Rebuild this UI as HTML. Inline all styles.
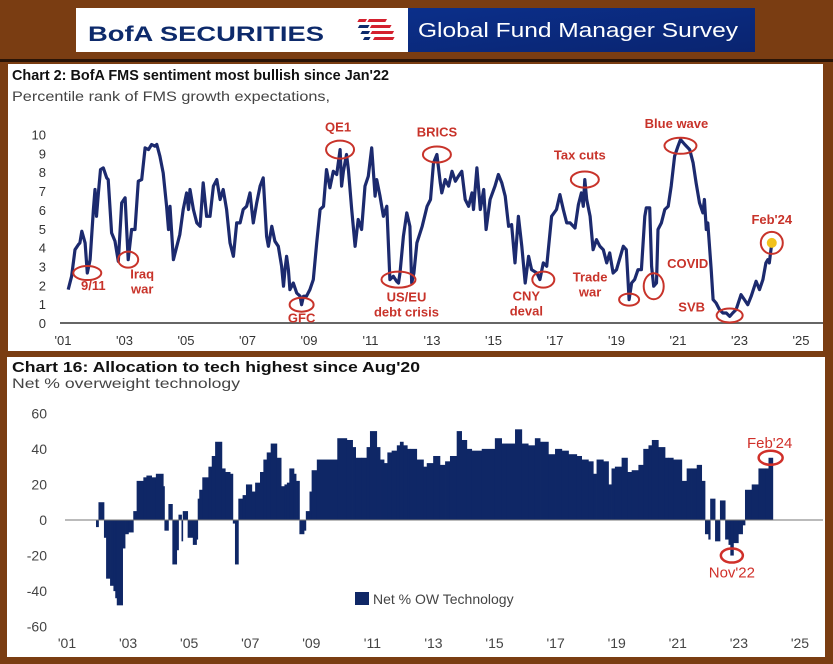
<!DOCTYPE html>
<html><head><meta charset="utf-8"><style>
html,body{margin:0;padding:0;background:#7a3d12;}
svg{display:block;font-family:"Liberation Sans",sans-serif;}
</style></head><body>
<svg id="root" width="833" height="664" viewBox="0 0 833 664">
  <rect x="0" y="0" width="833" height="664" fill="#7a3d12"/>
  <rect x="0" y="59" width="833" height="3" fill="#2a1406"/>
  <g>
    <rect x="76" y="8" width="332" height="44" fill="#ffffff"/>
    <text x="88" y="41" font-size="21" font-weight="bold" fill="#0d2a6b" textLength="236" lengthAdjust="spacingAndGlyphs">BofA SECURITIES</text>
    <g transform="skewX(-30)">
      <rect x="370" y="19" width="8" height="3" fill="#d4202e"/><rect x="380" y="19" width="18" height="3" fill="#d4202e"/>
      <rect x="374" y="25" width="10" height="3" fill="#0d2a6b"/><rect x="386" y="25" width="20" height="3" fill="#d4202e"/>
      <rect x="380" y="31" width="8" height="3" fill="#0d2a6b"/><rect x="390" y="31" width="22" height="3" fill="#d4202e"/>
      <rect x="386" y="37" width="6" height="3" fill="#0d2a6b"/><rect x="396" y="37" width="20" height="3" fill="#d4202e"/>
    </g>
    <defs><linearGradient id="bg" x1="0" y1="0" x2="1" y2="1"><stop offset="0" stop-color="#0b2f8a"/><stop offset="1" stop-color="#0a2470"/></linearGradient></defs>
    <rect x="408" y="8" width="347" height="44" fill="url(#bg)"/>
    <text x="418" y="37" font-size="20" fill="#ffffff" textLength="320" lengthAdjust="spacingAndGlyphs">Global Fund Manager Survey</text>
  </g>

  <rect x="8" y="64" width="815" height="287" fill="#ffffff"/>
  <text x="12" y="80" font-size="15" font-weight="bold" fill="#111" textLength="377" lengthAdjust="spacingAndGlyphs">Chart 2: BofA FMS sentiment most bullish since Jan'22</text>
  <text x="12" y="101" font-size="14" fill="#444" textLength="318" lengthAdjust="spacingAndGlyphs">Percentile rank of FMS growth expectations,</text>
  <g id="c1"></g>

  <rect x="7" y="357" width="818" height="300" fill="#ffffff"/>
  <text x="12" y="372" font-size="15" font-weight="bold" fill="#111" textLength="408" lengthAdjust="spacingAndGlyphs">Chart 16: Allocation to tech highest since Aug'20</text>
  <text x="12" y="388" font-size="14" fill="#444" textLength="228" lengthAdjust="spacingAndGlyphs">Net % overweight technology</text>
  <g id="c2"></g>
</svg>
<script>
// ---------- Chart 2 data ----------
const sentYears = [2001.17,2001.28,2001.39,2001.5,2001.55,2001.61,2001.72,2001.79,2001.88,2001.99,2002.04,2002.09,2002.15,2002.22,2002.31,2002.42,2002.47,2002.58,2002.69,2002.8,2002.91,2003.02,2003.12,2003.23,2003.34,2003.45,2003.56,2003.67,2003.78,2003.88,2003.99,2004.05,2004.15,2004.26,2004.37,2004.43,2004.48,2004.59,2004.7,2004.8,2004.91,2005.02,2005.08,2005.13,2005.24,2005.35,2005.46,2005.56,2005.67,2005.78,2005.89,2006.0,2006.11,2006.21,2006.32,2006.43,2006.54,2006.65,2006.76,2006.86,2006.97,2007.08,2007.14,2007.19,2007.3,2007.41,2007.51,2007.62,2007.68,2007.79,2007.89,2008.0,2008.11,2008.17,2008.22,2008.27,2008.33,2008.38,2008.49,2008.6,2008.71,2008.76,2008.82,2008.92,2009.03,2009.14,2009.25,2009.36,2009.47,2009.57,2009.68,2009.79,2009.9,2010.01,2010.06,2010.12,2010.22,2010.28,2010.39,2010.5,2010.6,2010.71,2010.82,2010.93,2011.04,2011.15,2011.2,2011.31,2011.42,2011.53,2011.63,2011.74,2011.85,2011.91,2011.96,2012.07,2012.18,2012.28,2012.34,2012.41,2012.51,2012.68,2012.84,2012.95,2013.05,2013.16,2013.27,2013.32,2013.43,2013.54,2013.65,2013.76,2013.86,2013.97,2014.08,2014.19,2014.3,2014.35,2014.46,2014.57,2014.68,2014.76,2014.89,2015.05,2015.16,2015.27,2015.38,2015.49,2015.59,2015.7,2015.81,2015.92,2016.03,2016.14,2016.24,2016.41,2016.51,2016.62,2016.73,2016.89,2017.05,2017.16,2017.27,2017.38,2017.49,2017.65,2017.76,2017.86,2017.92,2017.97,2018.03,2018.14,2018.24,2018.35,2018.46,2018.57,2018.68,2018.78,2018.89,2019.0,2019.22,2019.32,2019.41,2019.49,2019.59,2019.7,2019.81,2019.92,2019.97,2020.08,2020.14,2020.21,2020.3,2020.35,2020.46,2020.57,2020.68,2020.78,2020.89,2021.0,2021.08,2021.22,2021.38,2021.49,2021.59,2021.7,2021.81,2021.86,2021.92,2021.97,2022.08,2022.14,2022.24,2022.35,2022.46,2022.57,2022.68,2022.78,2022.89,2023.05,2023.16,2023.27,2023.38,2023.54,2023.65,2023.76,2023.86,2023.92,2023.97,2024.05];
const sentValues = [1.77,2.48,3.89,4.16,4.25,4.87,4.25,2.65,3.36,6.02,7.08,5.66,6.9,8.14,8.23,7.7,7.61,4.78,4.34,3.27,6.37,6.64,3.36,4.96,4.96,7.52,7.61,9.29,9.2,9.47,9.38,9.47,8.85,7.96,6.19,4.96,6.19,3.36,4.07,4.69,6.02,6.9,6.02,7.08,6.02,5.31,5.13,7.43,5.66,5.66,7.26,7.61,6.55,7.08,6.02,4.25,3.54,5.31,5.31,6.02,6.19,6.9,6.02,5.31,6.37,7.26,7.7,4.6,4.07,5.13,4.34,4.07,3.01,1.95,2.83,3.54,2.83,1.77,2.12,1.59,1.42,0.97,1.42,1.42,1.77,2.3,4.25,6.02,6.19,8.14,7.17,8.05,7.88,9.2,7.26,8.05,8.94,8.14,6.02,4.07,5.49,4.96,7.26,7.79,9.29,6.73,7.61,6.73,5.66,6.19,2.3,2.48,2.21,2.12,2.65,4.6,5.84,5.13,2.12,2.65,4.25,5.13,6.19,6.55,8.5,8.94,7.43,6.9,7.61,7.26,8.05,7.52,7.79,8.05,6.55,6.19,6.9,6.02,8.23,6.02,7.08,4.96,6.55,7.26,7.88,7.43,6.73,5.13,5.22,3.19,5.66,4.07,2.12,3.54,2.83,2.65,2.3,3.19,3.01,5.66,6.02,6.81,6.02,5.31,5.31,5.04,6.28,6.9,6.19,7.61,6.55,5.66,3.89,4.42,4.07,3.89,3.19,3.72,2.65,2.83,4.07,3.89,1.24,2.12,2.3,2.83,2.83,5.66,6.11,6.11,3.01,1.95,2.12,4.96,5.31,6.02,6.19,7.26,8.85,9.38,9.73,9.47,9.2,8.5,7.43,6.37,5.84,6.55,4.96,5.31,2.83,1.24,1.06,0.71,0.53,0.53,0.35,0.53,0.71,1.5,1.24,0.97,1.42,2.21,1.77,2.3,3.19,3.36,3.19,4.25];
const sentYTicks = [0,1,2,3,4,5,6,7,8,9,10];
const xTickYears = [2001,2003,2005,2007,2009,2011,2013,2015,2017,2019,2021,2023,2025];
const xTickLabels = ["'01","'03","'05","'07","'09","'11","'13","'15","'17","'19","'21","'23","'25"];
const annLabels = ["9/11","Iraq|war","GFC","QE1","US/EU|debt crisis","BRICS","CNY|deval","Tax cuts","Trade|war","COVID","Blue wave","SVB","Feb'24"];
const annYears = [2001.79,2003.12,2008.76,2010.01,2011.91,2013.16,2016.62,2017.97,2019.41,2020.21,2021.08,2022.68,2024.05];
const annValues = [2.65,3.36,0.97,9.2,2.3,8.94,2.3,7.61,1.24,1.95,9.4,0.4,4.25];

// ---------- Chart 16 data ----------
const techStarts = [2001.95,2002.03,2002.21,2002.28,2002.41,2002.52,2002.58,2002.63,2002.82,2002.9,2003.01,2003.17,2003.28,2003.5,2003.6,2003.77,2003.91,2004.15,2004.19,2004.32,2004.45,2004.59,2004.65,2004.75,2004.79,2004.95,2005.12,2005.24,2005.28,2005.33,2005.43,2005.63,2005.74,2005.85,2006.07,2006.18,2006.34,2006.43,2006.5,2006.61,2006.75,2006.86,2007.05,2007.16,2007.32,2007.43,2007.54,2007.67,2007.87,2008.01,2008.12,2008.2,2008.28,2008.43,2008.5,2008.61,2008.76,2008.82,2008.94,2009.01,2009.18,2009.85,2010.16,2010.35,2010.45,2010.65,2010.81,2010.92,2011.14,2011.25,2011.38,2011.49,2011.63,2011.8,2011.9,2012.01,2012.14,2012.23,2012.45,2012.67,2012.78,2012.99,2013.21,2013.38,2013.54,2013.76,2013.92,2014.09,2014.25,2014.58,2015.01,2015.23,2015.4,2015.67,2015.89,2016.1,2016.32,2016.49,2016.76,2016.98,2017.2,2017.42,2017.69,2017.85,2018.07,2018.23,2018.34,2018.56,2018.73,2018.83,2018.94,2019.16,2019.35,2019.49,2019.71,2019.87,2020.04,2020.15,2020.36,2020.58,2020.69,2020.85,2021.13,2021.29,2021.45,2021.62,2021.78,2021.89,2022.0,2022.06,2022.22,2022.38,2022.55,2022.66,2022.72,2022.82,2022.98,2023.12,2023.2,2023.42,2023.64,2023.86,2023.97];
const techValues = [-4,10,-10,-33,-37,-40,-44,-48,-16,-8,-7,5,22,24,25,24,26,19,-6,9,-25,-17,3,-12,5,-10,-14,-11,12,17,24,30,36,44,29,27,26,-2,-25,12,14,20,16,21,27,34,38,43,35,19,20,21,29,26,22,-8,-6,5,16,28,34,46,45,41,35,35,41,50,41,34,32,38,39,42,44,42,40,40,34,30,32,36,31,33,36,50,45,40,39,40,46,43,43,51,43,42,46,44,37,40,39,37,36,34,33,26,34,33,20,29,30,35,27,28,31,40,42,45,41,35,35,34,22,29,29,31,22,-8,-11,12,-12,11,-11,-14,-20,-13,-8,-3,17,20,29,29,35];
const techEnd = 2024.11;
const techYTicks = [60,40,20,0,-20,-40,-60];

const NS = 'http://www.w3.org/2000/svg';
function mk(parent, tag, attrs, txt){
  const e = document.createElementNS(NS, tag);
  for (const k in attrs) e.setAttribute(k, attrs[k]);
  if (txt !== undefined) e.textContent = txt;
  parent.appendChild(e);
  return e;
}

// ---------- Chart 2 ----------
(function(){
  const g = document.getElementById('c1');
  const X = y => 63 + (y - 2001) * 30.75;
  const Y = v => 323 - v * 18.85;
  const ax = mk(g,'line',{x1:60,x2:823,y1:Y(0),y2:Y(0),stroke:'#666','stroke-width':2});
  
  
  sentYTicks.forEach(t=>{
    const e = mk(g,'text',{x:46,y:Y(t)+5,'font-size':13,fill:'#333','text-anchor':'end'},String(t));
    
    
  });
  xTickYears.forEach((yr,i)=>{
    const e = mk(g,'text',{x:X(yr),y:345,'font-size':13,fill:'#333','text-anchor':'middle'},xTickLabels[i]);
    
    
  });
  const d = sentYears.map((yr,i)=>(i?'L':'M')+X(yr).toFixed(1)+','+Y(sentValues[i]).toFixed(1)).join('');
  const p = mk(g,'path',{d:d,fill:'none',stroke:'#1c2a6e','stroke-width':3.2,'stroke-linejoin':'round'});
  
  
  const red = '#c8332a';
  const lo = {"9/11":[6,17,14,7],"Iraq|war":[14,19,10,8],"GFC":[0,18,12,7],"QE1":[-2,-18,14,9],"US/EU|debt crisis":[8,22,17,8],"BRICS":[0,-18,14,8],"CNY|deval":[-17,21,11,8],"Tax cuts":[-5,-20,14,8],"Trade|war":[-39,-3,10,6],"COVID":[34,-18,10,13],"Blue wave":[-4,-18,16,8],"SVB":[-38,-4,13,7],"Feb'24":[0,-19,11,11]};
  annLabels.forEach((lab,i)=>{
    const cx = X(annYears[i]), cy = Y(annValues[i]);
    const o = lo[lab];
    if (lab==="Feb'24"){
      const dot = mk(g,'circle',{cx:cx,cy:cy,r:5,fill:'#f2c21b'});
      
      
    }
    const el = mk(g,'ellipse',{cx:cx,cy:cy,rx:o[2],ry:o[3],fill:'none',stroke:red,'stroke-width':2});
    
    
    const parts = lab.split('|');
    parts.forEach((pt,j)=>{
      const t = mk(g,'text',{x:cx+o[0],y:cy+o[1]+(o[1]<0?-(parts.length-1-j)*15:j*15),'font-size':13,'font-weight':'bold',fill:red,'text-anchor':'middle'},pt);
      
      
    });
  });
})();

// ---------- Chart 16 ----------
(function(){
  const g = document.getElementById('c2');
  const X = y => 67 + (y - 2001) * 30.54;
  const Y = v => 520 - v * 1.778;
  techYTicks.forEach(t=>{
    const e = mk(g,'text',{x:47,y:Y(t)+5,'font-size':14,fill:'#444','text-anchor':'end'},String(t));
    
    
  });
  xTickYears.forEach((yr,i)=>{
    const e = mk(g,'text',{x:X(yr),y:648,'font-size':14,fill:'#444','text-anchor':'middle'},xTickLabels[i]);
    
    
  });
  techValues.forEach((v,i)=>{
    const x0 = X(techStarts[i]);
    const x1 = X(i+1<techStarts.length ? techStarts[i+1] : techEnd);
    const b = mk(g,'rect',{x:x0.toFixed(2),y:Math.min(Y(v),Y(0)).toFixed(2),width:(x1-x0+0.4).toFixed(2),height:Math.abs(Y(v)-Y(0)).toFixed(2),fill:'#0f2766'});
    
    
  });
  const z = mk(g,'line',{x1:65,x2:823,y1:Y(0),y2:Y(0),stroke:'#777','stroke-width':1});
  
  
  const red = '#d0302a';
  const n = techValues.length;
  const fx = X((techStarts[n-1]+techEnd)/2), fy = Y(techValues[n-1]);
  const e1 = mk(g,'ellipse',{cx:fx,cy:fy,rx:12,ry:7,fill:'none',stroke:red,'stroke-width':2.5});
  
  
  const t1 = mk(g,'text',{x:fx-1,y:fy-10,'font-size':15,fill:red,'text-anchor':'middle'},"Feb'24");
  
  
  const ni = techValues.indexOf(Math.min(...techValues.slice(100)),100);
  const nx = X((techStarts[ni]+techStarts[ni+1])/2), ny = Y(techValues[ni]);
  const e2 = mk(g,'ellipse',{cx:nx,cy:ny,rx:11,ry:7,fill:'none',stroke:red,'stroke-width':2.5});
  
  
  const t2 = mk(g,'text',{x:nx,y:ny+22,'font-size':15,fill:red,'text-anchor':'middle'},"Nov'22");
  
  
  const ls = mk(g,'rect',{x:355,y:592,width:14,height:13,fill:'#0f2766'});
  
  
  const lt = mk(g,'text',{x:373,y:604,'font-size':14,fill:'#444'},'Net % OW Technology');
  
  
})();
</script>
</body></html>
